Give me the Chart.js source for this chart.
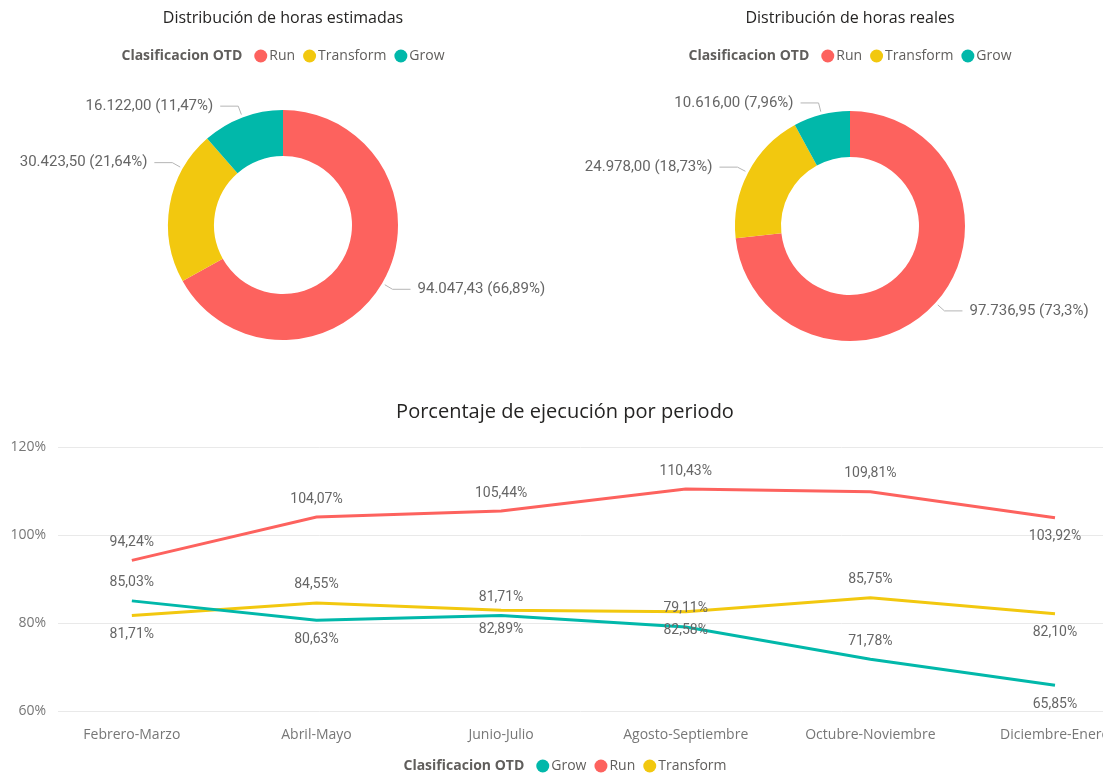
<!DOCTYPE html>
<html>
<head>
<meta charset="utf-8">
<script src="https://cdn.jsdelivr.net/npm/chart.js@4.4.1/dist/chart.umd.min.js"></script>
<style>
  html, body { margin: 0; padding: 0; background: #fff; }
  #wrap { position: relative; width: 1103px; height: 774px; overflow: hidden; }
  #wrap canvas { position: absolute; }
</style>
</head>
<body>
<div id="wrap">
  <canvas id="est" width="566" height="370" style="left:0;top:0"></canvas>
  <canvas id="real" width="568" height="370" style="left:566px;top:0"></canvas>
  <canvas id="trend" width="1134" height="382" style="left:0;top:392px"></canvas>
</div>
<script>
// ── data ──
const otdClasses = ['Run', 'Transform', 'Grow'];
const hoursEstimated = [94047.43, 30423.50, 16122.00];
const hoursReal = [97736.95, 24978.00, 10616.00];

const periods = ['Febrero-Marzo', 'Abril-Mayo', 'Junio-Julio', 'Agosto-Septiembre', 'Octubre-Noviembre', 'Diciembre-Enero'];
const execGrow = [85.03, 80.63, 81.71, 79.11, 71.78, 65.85];
const execRun = [94.24, 104.07, 105.44, 110.43, 109.81, 103.92];
const execTransform = [81.71, 84.55, 82.89, 82.58, 85.75, 82.10];
const yTicks = [60, 80, 100, 120];

const colors = { Run: '#FD625E', Transform: '#F2C80F', Grow: '#01B8AA' };
const grey = '#666666';

// spanish number formats: 94.047,43 and 73,3%
function fmtNum(v, dec) {
  const parts = v.toFixed(dec).split('.');
  const intPart = parts[0].replace(/\B(?=(\d{3})+(?!\d))/g, '.');
  return parts[1] ? intPart + ',' + parts[1] : intPart;
}
function fmtPct(v) {
  const s = v.toFixed(2).replace(/0+$/, '').replace(/\.$/, '');
  return s.replace('.', ',') + '%';
}

// title + inline legend ("Clasificacion OTD ● Run ● ...")
const headerPlugin = {
  id: 'header',
  afterDraw(chart, args, opts) {
    const ctx = chart.ctx;
    const cx = opts.centerX != null ? opts.centerX : chart.width / 2;
    ctx.save();
    if (opts.title) {
      ctx.font = opts.titleFont;
      ctx.fillStyle = '#252423';
      ctx.textAlign = 'center';
      ctx.textBaseline = 'middle';
      ctx.fillText(opts.title, cx, opts.titleY);
    }
    const boldFont = 'bold 14px "Open Sans"';
    const itemFont = '14px "Open Sans"';
    ctx.font = boldFont;
    const headW = ctx.measureText('Clasificacion OTD').width;
    ctx.font = itemFont;
    const r = 6.5;
    let total = headW + 12;
    opts.items.forEach(it => { total += r * 2 + 2 + ctx.measureText(it).width + 8; });
    total -= 8;
    let x = cx - total / 2;
    const y = opts.legendY;
    ctx.textAlign = 'left';
    ctx.textBaseline = 'middle';
    ctx.font = boldFont;
    ctx.fillStyle = '#605E5C';
    ctx.fillText('Clasificacion OTD', x, y);
    x += headW + 12;
    ctx.font = itemFont;
    opts.items.forEach(it => {
      ctx.fillStyle = colors[it];
      ctx.beginPath();
      ctx.arc(x + r, y, r, 0, Math.PI * 2);
      ctx.fill();
      x += r * 2 + 2;
      ctx.fillStyle = '#605E5C';
      ctx.fillText(it, x, y);
      x += ctx.measureText(it).width + 8;
    });
    ctx.restore();
  }
};

// outside labels with leader lines for the doughnuts
const sliceLabels = {
  id: 'sliceLabels',
  afterDatasetsDraw(chart, args, opts) {
    const ctx = chart.ctx;
    const meta = chart.getDatasetMeta(0);
    const values = chart.data.datasets[0].data;
    const total = values.reduce((a, b) => a + b, 0);
    ctx.save();
    ctx.font = '15px Roboto';
    ctx.textBaseline = 'middle';
    meta.data.forEach((arc, i) => {
      const p = arc.getProps(['x', 'y', 'startAngle', 'endAngle', 'outerRadius'], true);
      let a = (p.startAngle + p.endAngle) / 2;
      if (opts.angles && opts.angles[i] != null) a = (opts.angles[i] - 90) * Math.PI / 180;
      const cos = Math.cos(a), sin = Math.sin(a);
      const x0 = p.x + (p.outerRadius + 3) * cos, y0 = p.y + (p.outerRadius + 3) * sin;
      const x1 = p.x + (p.outerRadius + 12) * cos, y1 = p.y + (p.outerRadius + 12) * sin;
      const side = cos >= 0 ? 1 : -1;
      const x2 = x1 + side * 18;
      ctx.strokeStyle = '#b5b5b5';
      ctx.lineWidth = 1;
      ctx.beginPath();
      ctx.moveTo(x0, y0);
      ctx.lineTo(x1, y1);
      ctx.lineTo(x2, y1);
      ctx.stroke();
      ctx.fillStyle = grey;
      ctx.textAlign = side > 0 ? 'left' : 'right';
      const txt = fmtNum(values[i], 2) + ' (' + fmtPct(values[i] / total * 100) + ')';
      ctx.fillText(txt, x2 + side * 7, y1);
    });
    ctx.restore();
  }
};

// value labels above / below the line points
const pointLabels = {
  id: 'pointLabels',
  afterDatasetsDraw(chart) {
    const ctx = chart.ctx;
    ctx.save();
    ctx.font = '14px Roboto';
    ctx.fillStyle = grey;
    ctx.textAlign = 'center';
    ctx.textBaseline = 'middle';
    chart.data.datasets.forEach((ds, i) => {
      chart.getDatasetMeta(i).data.forEach((pt, j) => {
        const dy = ds.labelSides[j] === 'below' ? 19 : -18;
        ctx.fillText(fmtNum(ds.data[j].y, 2) + '%', pt.x, pt.y + dy);
      });
    });
    ctx.restore();
  }
};

function makeDoughnut(id, title, values, pad, labelAngles) {
  return new Chart(document.getElementById(id), {
    type: 'doughnut',
    data: {
      labels: otdClasses,
      datasets: [{
        data: values,
        backgroundColor: otdClasses.map(c => colors[c]),
        borderWidth: 0
      }]
    },
    options: {
      responsive: false,
      animation: false,
      cutout: '60%',
      layout: { padding: pad },
      events: [],
      plugins: {
        legend: { display: false },
        tooltip: { enabled: false },
        header: {
          title: title,
          titleFont: '16px "Open Sans"',
          titleY: 18,
          legendY: 56,
          centerX: pad.left + 115,
          items: otdClasses
        },
        sliceLabels: { angles: labelAngles }
      }
    },
    plugins: [headerPlugin, sliceLabels]
  });
}

makeDoughnut('est', 'Distribución de horas estimadas', hoursEstimated,
  { top: 110, left: 168, right: 168, bottom: 30 }, [null, 299.4, null]);
makeDoughnut('real', 'Distribución de horas reales', hoursReal,
  { top: 111, left: 169, right: 169, bottom: 29 }, null);

const toXY = arr => arr.map((v, i) => ({ x: i, y: v }));

new Chart(document.getElementById('trend'), {
  type: 'line',
  data: {
    datasets: [
      {
        label: 'Grow', data: toXY(execGrow), borderColor: colors.Grow,
        labelSides: ['above', 'below', 'above', 'above', 'above', 'below']
      },
      {
        label: 'Run', data: toXY(execRun), borderColor: colors.Run,
        labelSides: ['above', 'above', 'above', 'above', 'above', 'below']
      },
      {
        label: 'Transform', data: toXY(execTransform), borderColor: colors.Transform,
        labelSides: ['below', 'above', 'below', 'below', 'above', 'below']
      }
    ]
  },
  options: {
    responsive: false,
    animation: false,
    events: [],
    layout: { padding: { top: 55, right: 31, left: 0, bottom: 0 } },
    elements: {
      line: { borderWidth: 3, tension: 0 },
      point: { radius: 0 }
    },
    scales: {
      x: {
        type: 'linear',
        min: -0.4,
        max: 5.26,
        grid: { display: false },
        border: { display: false },
        afterBuildTicks: s => { s.ticks = periods.map((p, i) => ({ value: i })); },
        afterFit: s => { s.height = 63; },
        ticks: {
          autoSkip: false,
          maxRotation: 0,
          padding: 8,
          color: '#777',
          font: { family: 'Open Sans', size: 14 },
          callback: v => periods[v]
        }
      },
      y: {
        min: 60,
        max: 120,
        grid: { color: '#e9e9e9', drawTicks: false },
        border: { display: false },
        afterBuildTicks: s => { s.ticks = yTicks.map(v => ({ value: v })); },
        afterFit: s => { s.width = 58; },
        ticks: {
          padding: 12,
          color: '#777',
          font: { family: 'Open Sans', size: 14 },
          callback: v => v + '%'
        }
      }
    },
    plugins: {
      legend: { display: false },
      tooltip: { enabled: false },
      header: {
        title: 'Porcentaje de ejecución por periodo',
        titleFont: '20px "Open Sans"',
        titleY: 20,
        legendY: 374,
        centerX: 565,
        items: ['Grow', 'Run', 'Transform']
      }
    }
  },
  plugins: [headerPlugin, pointLabels]
});
</script>
</body>
</html>
